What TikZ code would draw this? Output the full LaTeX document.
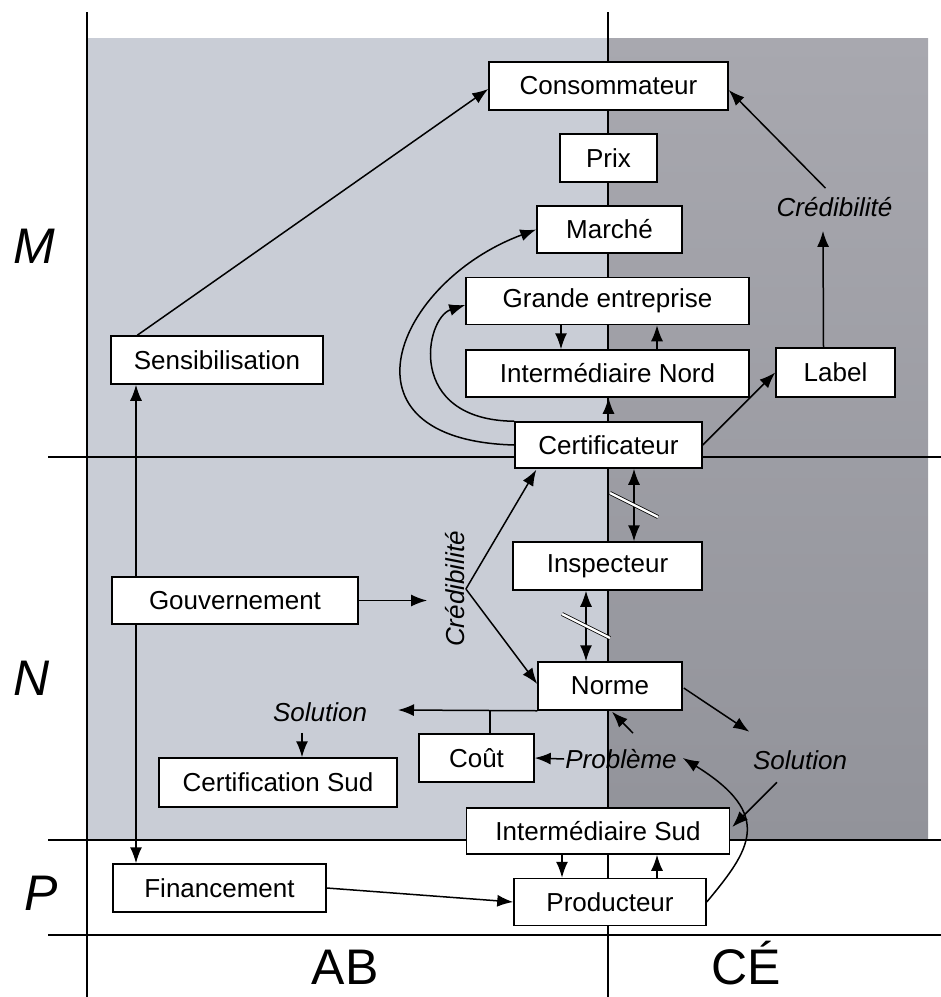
\documentclass[tikz,border=0pt]{standalone}
\usepackage{fontspec}
\setmainfont{Liberation Sans}
\usetikzlibrary{arrows.meta,calc}

\definecolor{zoneA}{RGB}{201,205,214}
\definecolor{zoneBtop}{RGB}{168,168,175}
\definecolor{zoneBbot}{RGB}{146,147,154}

\pgfdeclarelayer{back}
\pgfdeclarelayer{mid}
\pgfsetlayers{back,mid,main}

\begin{document}
\begin{tikzpicture}[x=1pt,y=-1pt,
  box/.style={draw=black,line width=1.5pt,fill=white,inner sep=0pt,
    font=\fontsize{26}{30}\selectfont},
  lbl/.style={inner sep=1pt,font=\fontsize{26}{30}\selectfont\itshape},
  big/.style={inner sep=0pt,font=\fontsize{50}{56}\selectfont},
  bigit/.style={inner sep=0pt,font=\fontsize{50}{56}\selectfont\itshape},
  arr/.style={line width=1.5pt,-{Latex[length=16pt,width=12pt]}},
  darr/.style={line width=1.5pt,{Latex[length=16pt,width=12pt]}-{Latex[length=16pt,width=12pt]}},
  link/.style={line width=1.5pt},
  gridline/.style={line width=1.1pt},
  cut/.style={double=white,double distance=2.4pt,line width=0.8pt}]

\useasboundingbox (0,0) rectangle (941,997);

\begin{pgfonlayer}{back}
% shaded zones
\fill[zoneA] (87,38) rectangle (608,840);
\shade[top color=zoneBtop,bottom color=zoneBbot] (608,38) rectangle (928,840);
% grid
\draw[gridline] (87,12) -- (87,997);
\draw[gridline] (608,12) -- (608,997);
\draw[gridline] (48,457) -- (941,457);
\draw[gridline] (48,840) -- (941,840);
\draw[gridline] (48,935) -- (941,935);
\end{pgfonlayer}

% row and column headings
\node[bigit] (rowM) at (34,246) {M};
\node[bigit] (rowN) at (32,678) {N};
\node[bigit] (rowP) at (41,893) {P};
\node[big,anchor=base] (colAB) at (345,984) {AB};
\node[big,anchor=base] (colCE) at (746,984) {CÉ};

% boxes
\node[box,minimum width=239pt,minimum height=48pt] (cons) at (608.5,86) {Consommateur};
\node[box,minimum width=97pt,minimum height=48pt] (prix) at (608.5,158) {Prix};
\node[box,minimum width=145pt,minimum height=47pt] (marche) at (609.5,229.5) {Marché};
\node[box,minimum width=283pt,minimum height=47pt] (grande) at (607.5,301) {Grande entreprise};
\node[box,minimum width=283pt,minimum height=47pt] (internord) at (607.5,373.5) {Intermédiaire Nord};
\node[box,minimum width=187pt,minimum height=46pt] (cert) at (608.5,445) {Certificateur};
\node[box,minimum width=119pt,minimum height=49pt] (label) at (835.5,372.5) {Label};
\node[box,minimum width=212pt,minimum height=48pt] (sens) at (217,360) {Sensibilisation};
\node[box,minimum width=246pt,minimum height=47pt] (gouv) at (235,600.5) {Gouvernement};
\node[box,minimum width=189pt,minimum height=48pt] (insp) at (607.5,566) {Inspecteur};
\node[box,minimum width=144pt,minimum height=48pt] (norme) at (610,686) {Norme};
\node[box,minimum width=115pt,minimum height=48pt] (cout) at (476.5,758) {Coût};
\node[box,minimum width=238pt,minimum height=49pt] (certsud) at (278,782.5) {Certification Sud};
\node[box,minimum width=263pt,minimum height=46pt] (intersud) at (598,831) {Intermédiaire Sud};
\node[box,minimum width=213pt,minimum height=48pt] (fin) at (219.5,888) {Financement};
\node[box,minimum width=192pt,minimum height=47pt] (prod) at (610,902) {Producteur};

% italic labels
\node[lbl] (credA) at (834.5,207) {Crédibilité};
\node[lbl,rotate=90] (credB) at (455,589) {Crédibilité};
\node[lbl] (solA) at (320,712) {Solution};
\node[lbl] (solB) at (800,760) {Solution};
\node[lbl] (prob) at (621,759) {Problème};

% vertical links of Gouvernement, passing behind its box
\begin{pgfonlayer}{mid}
\draw[arr] ([xshift=-99pt]gouv.north) -- ([xshift=-99pt]gouv.north |- sens.south);
\draw[arr] ([xshift=-99pt]gouv.south) -- ([xshift=-99pt]gouv.south |- fin.north);
\end{pgfonlayer}

% connectors: upper band
\draw[arr] ($(sens.north west)+(27,0)$) -- ($(cons.west)+(0,3)$);
\draw[arr] ($(credA.north)+(-9,-8)$) -- ($(cons.east)+(0,4)$);
\draw[arr] ([xshift=-12pt]label.north) -- ($(credA.south)+(-11.5,13)$);
\draw[arr] (cert.east) -- (label.west);
\draw[arr] (cert.north) -- (cert.north |- internord.south);
\draw[arr] ([xshift=-46.5pt]grande.south) -- ([xshift=-46.5pt]internord.north);
\draw[arr] ([xshift=49.5pt]internord.north) -- ([xshift=49.5pt]grande.south);
\draw[arr] (cert.west) .. controls (330,440) and (395,282) .. (marche.west);
\draw[arr] (cert.north west) .. controls (405,420) and (425,318) .. ($(grande.west)+(0,4)$);

% connectors: middle band
\draw[darr] ([xshift=25.5pt]cert.south) -- ([xshift=25.5pt]cert.south |- insp.north);
\draw[darr] ([xshift=-21.5pt]insp.south) -- ([xshift=-21.5pt]insp.south |- norme.north);
\coordinate (cutA) at ($([xshift=25.5pt]cert.south)!0.5!([xshift=25.5pt]cert.south |- insp.north)$);
\coordinate (cutB) at ($([xshift=-21.5pt]insp.south)!0.5!([xshift=-21.5pt]insp.south |- norme.north)$);
\draw[cut] ($(cutA)+(-24,-12)$) -- ($(cutA)+(24,12)$);
\draw[cut] ($(cutB)+(-24,-12)$) -- ($(cutB)+(24,12)$);

\draw[arr,shorten >=17pt] (gouv.east) -- (gouv.east -| credB.north);
\draw[arr] (credB.south) -- ($(cert.south west)+(22,1)$);
\draw[arr] (credB.south) -- ($(norme.west)+(0,-2)$);

\coordinate (solAin) at (398,710);
\draw[arr] (norme.south west) -- (solAin);
\draw[link] ([xshift=13.5pt]cout.north) -- ([xshift=13.5pt]cout.north |- norme.south);
\draw[arr,shorten <=10pt] ([xshift=24pt]certsud.north |- solA.south) -- ([xshift=24pt]certsud.north);

\draw[arr] (prob.west) -- (cout.east);
\draw[arr] ($(prob.north)+(12,-15)$) -- ($(norme.south)+(2,1)$);
\draw[arr] ($(norme.east)+(1,2)$) -- ($(solB.north west)+(-2.5,-17.5)$);
\draw[arr] ($(solB.south)+(-23,11.5)$) -- ($(intersud.east)+(2,-4)$);

% connectors: lower band
\draw[arr] (prod.east) .. controls (750,850) and (775,815) .. ($(prob.east)+(5,-1)$);
\draw[arr] ([xshift=-36pt]intersud.south) -- ([xshift=-36pt]intersud.south |- prod.north);
\draw[arr] ([xshift=47pt]prod.north) -- ([xshift=47pt]prod.north |- intersud.south);
\draw[arr] (fin.east) -- (prod.west);

\end{tikzpicture}
\end{document}
